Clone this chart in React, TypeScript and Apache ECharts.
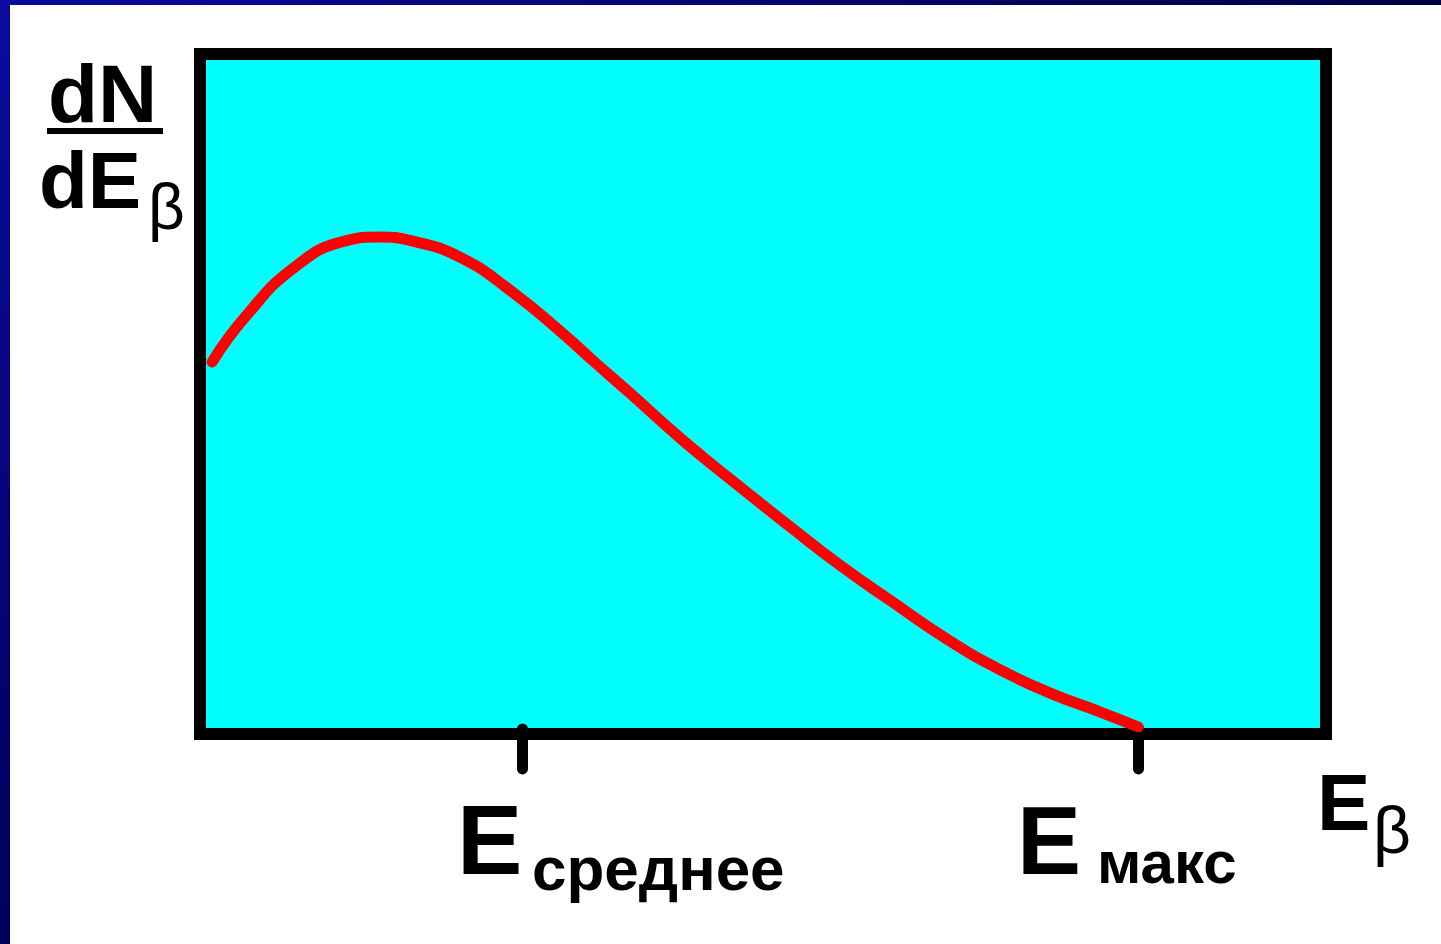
import React, { useEffect, useRef } from "react";
import * as echarts from "echarts";

// Beta spectrum shape dN/dE vs E (relative units, E_max = 1)
const energy = [0.013, 0.048, 0.101, 0.155, 0.19, 0.226, 0.279, 0.333, 0.386, 0.418, 0.458, 0.512, 0.565, 0.629, 0.682, 0.735, 0.799, 0.853, 0.906, 0.959, 1.0];
const intensity = [0.746, 0.837, 0.939, 0.992, 1.0, 0.992, 0.957, 0.888, 0.805, 0.75, 0.683, 0.591, 0.508, 0.411, 0.333, 0.262, 0.179, 0.12, 0.073, 0.035, 0.004];
const tickValues = [0.343, 1.0];
const tickMainLabels = ["E", "E"];
const tickSubLabels = ["среднее", "макс"];

const FONT = '"Liberation Sans", Arial, sans-serif';

export default function App() {
  const ref = useRef<HTMLDivElement>(null);
  useEffect(() => {
    if (!ref.current) return;
    const chart = echarts.init(ref.current, null, { renderer: "svg" });
    const data = energy.map((e, i) => [e, intensity[i]]);
    const txt = (text: string, x: number, y: number, size: number, bold: boolean) => ({
      type: "text",
      x,
      y,
      style: {
        text,
        font: `${bold ? "bold " : ""}${size}px ${FONT}`,
        fill: "#000",
        textAlign: "left",
        textVerticalAlign: "middle",
      },
      z: 10,
    });
    chart.setOption({
      animation: false,
      backgroundColor: "#ffffff",
      grid: {
        left: 200,
        top: 54,
        width: 1126,
        height: 680,
        show: true,
        backgroundColor: "#00ffff",
        borderColor: "#000000",
        borderWidth: 12,
      },
      xAxis: {
        type: "value",
        min: 0,
        max: 1.2,
        axisLine: { show: false },
        splitLine: { show: false },
        axisLabel: { show: false },
        axisTick: {
          show: true,
          customValues: tickValues,
          length: 40,
          inside: false,
          lineStyle: { color: "#000", width: 11, cap: "round" },
        },
      },
      yAxis: {
        type: "value",
        min: -0.0102,
        max: 1.372,
        show: false,
        splitLine: { show: false },
      },
      series: [
        {
          type: "line",
          data,
          smooth: 0.5,
          showSymbol: false,
          symbol: "none",
          lineStyle: { color: "#ff0000", width: 11, cap: "round" },
          clip: false,
        },
      ],
      graphic: [
        {
          type: "rect",
          shape: { x: 0, y: 0, width: 10, height: 944 },
          style: {
            fill: new echarts.graphic.LinearGradient(0, 0, 0, 1, [
              { offset: 0, color: "#0a0a9e" },
              { offset: 1, color: "#00005a" },
            ]),
          },
          z: 20,
        },
        {
          type: "rect",
          shape: { x: 0, y: 0, width: 1441, height: 5 },
          style: {
            fill: new echarts.graphic.LinearGradient(0, 0, 1, 0, [
              { offset: 0, color: "#0a0a9e" },
              { offset: 1, color: "#000045" },
            ]),
          },
          z: 20,
        },
        txt("dN", 48, 93, 82, true),
        {
          type: "rect",
          shape: { x: 47, y: 128, width: 116, height: 6 },
          style: { fill: "#000" },
          z: 10,
        },
        txt("dE", 39, 180, 80, true),
        txt("β", 148, 207, 64, false),
        txt(tickMainLabels[0], 457, 840, 98, true),
        txt(tickSubLabels[0], 532, 868, 62, true),
        txt(tickMainLabels[1], 1017, 840, 96, true),
        txt(tickSubLabels[1], 1097, 862, 60, true),
        txt("E", 1317, 802, 80, true),
        txt("β", 1373, 830, 66, false),
      ],
    });
    return () => chart.dispose();
  }, []);
  return (
    <div
      ref={ref}
      style={{ position: "absolute", left: 0, top: 0, width: 1441, height: 944 }}
    />
  );
}
